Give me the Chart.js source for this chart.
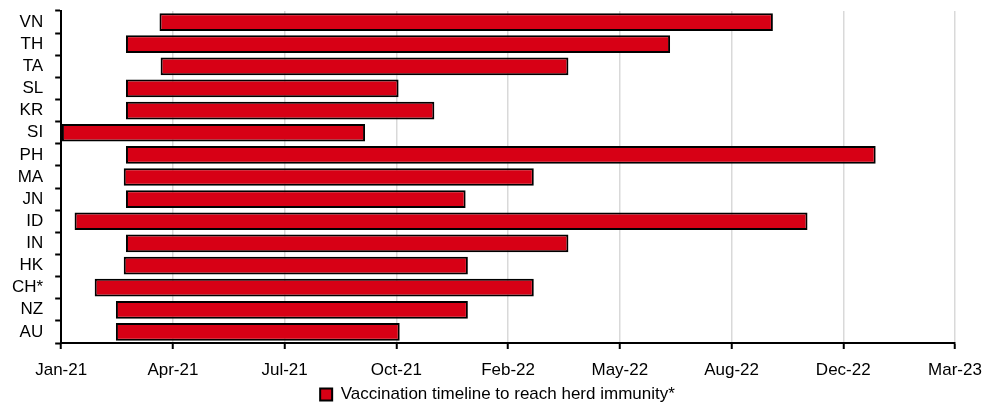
<!DOCTYPE html>
<html>
<head>
<meta charset="utf-8">
<script src="https://cdn.jsdelivr.net/npm/chart.js@4"></script>
<style>
  html, body { margin: 0; padding: 0; background: #fff; }
  #wrap { width: 999px; height: 407px; position: relative; }
</style>
</head>
<body>
<div id="wrap"><canvas id="myChart"></canvas></div>
<script>
const countries = ['VN','TH','TA','SL','KR','SI','PH','MA','JN','ID','IN','HK','CH*','NZ','AU'];
const startDates = ['2021-03-30','2021-02-28','2021-03-31','2021-02-28','2021-02-28','2021-01-01','2021-02-28',
                    '2021-02-26','2021-02-28','2021-01-13','2021-02-28','2021-02-26','2021-01-31','2021-02-19','2021-02-19'];
const endDates   = ['2022-09-30','2022-06-30','2022-03-31','2021-10-30','2021-12-01','2021-09-30','2022-12-31',
                    '2022-02-28','2021-12-29','2022-10-31','2022-03-31','2021-12-31','2022-02-28','2021-12-31','2021-10-31'];
const seriesLabel = 'Vaccination timeline to reach herd immunity*';
const MONTHS = ['Jan','Feb','Mar','Apr','May','Jun','Jul','Aug','Sep','Oct','Nov','Dec'];

// day 0 = 1 Jan 2021, axis runs 800 days in 100-day steps
const BASE = Date.UTC(2021, 0, 1);
const DAY = 864e5;
const toDays = s => { const [y,m,d] = s.split('-').map(Number); return (Date.UTC(y, m-1, d) - BASE) / DAY; };
const fmtDay = v => { const d = new Date(BASE + v*DAY); return MONTHS[d.getUTCMonth()] + '-' + String(d.getUTCFullYear()).slice(2); };

const FONT = "'Liberation Sans', Arial, sans-serif";

// legend sits a little right of the canvas centre
const legendNudge = {
  id: 'legendNudge',
  afterLayout: chart => { chart.legend.left += 20; chart.legend.right += 20; }
};

let myChart;
const setup = () => {
  const ctxt = document.getElementById('myChart').getContext('2d');
  myChart = new Chart(ctxt, {
    type: 'bar',
    data: {
      labels: countries,
      datasets: [{
        label: seriesLabel,
        data: startDates.map((s,i) => [toDays(s), toDays(endDates[i])]),
        backgroundColor: '#d70015',
        borderColor: '#000',
        borderWidth: 2,
        borderSkipped: false,
        categoryPercentage: 1,
        barPercentage: 0.8
      }]
    },
    options: {
      indexAxis: 'y',
      responsive: true,
      maintainAspectRatio: false,
      animation: false,
      layout: { padding: { left: 0, right: 44, top: 11, bottom: -6 } },
      plugins: {
        tooltip: { enabled: false },
        legend: {
          position: 'bottom',
          labels: {
            boxWidth: 12, boxHeight: 12, padding: 1,
            color: '#000',
            font: { family: FONT, size: 17 }
          }
        }
      },
      scales: {
        x: {
          type: 'linear',
          min: 0, max: 800,
          border: { color: '#000', width: 2 },
          grid: { color: '#d9d9d9', lineWidth: 1.5, tickColor: '#000', tickLength: 6, tickWidth: 2 },
          ticks: {
            stepSize: 100, color: '#000', padding: 11, maxRotation: 0,
            font: { family: FONT, size: 17 },
            callback: v => fmtDay(v)
          },
          afterFit: s => { s.paddingLeft = 0; s.paddingRight = 0; s.height = 42; }
        },
        y: {
          offset: true,
          border: { color: '#000', width: 2 },
          grid: { offset: true, drawOnChartArea: false, tickColor: '#000', tickLength: 6, tickWidth: 2 },
          ticks: { color: '#000', padding: 12, autoSkip: false, font: { family: FONT, size: 17 } },
          afterFit: s => { s.paddingTop = 0; s.paddingBottom = 0; }
        }
      }
    },
    plugins: [legendNudge]
  });
};

window.addEventListener('DOMContentLoaded', setup);
</script>
</body>
</html>
